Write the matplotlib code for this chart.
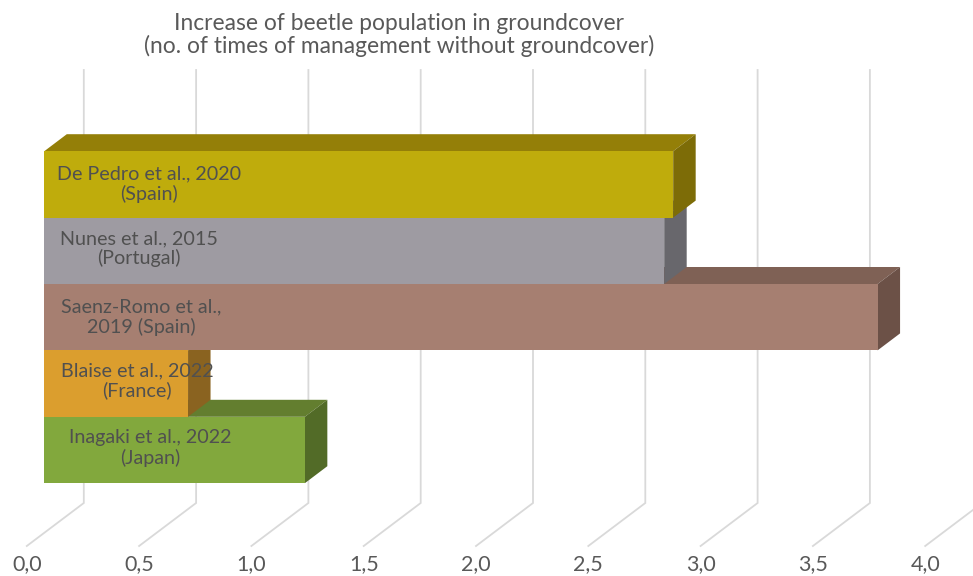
import matplotlib
matplotlib.use("Agg")
import matplotlib.pyplot as plt
from matplotlib.patches import Polygon

plt.rcParams["font.family"] = ["Lato", "DejaVu Sans"]

# Studies, listed from the bottom bar to the top bar
labels = [
    "Inagaki et al., 2022\n(Japan)",
    "Blaise et al., 2022\n(France)",
    "Saenz-Romo et al.,\n2019 (Spain)",
    "Nunes et al., 2015\n(Portugal)",
    "De Pedro et al., 2020\n(Spain)",
]
values = [1.16, 0.64, 3.71, 2.76, 2.80]
ticks = [0.0, 0.5, 1.0, 1.5, 2.0, 2.5, 3.0, 3.5, 4.0]
tick_labels = ["0,0", "0,5", "1,0", "1,5", "2,0", "2,5", "3,0", "3,5", "4,0"]

front_colors = ["#82A83D", "#DB9E2E", "#A67F71", "#9E9BA2", "#BFAC0C"]
top_colors = ["#637E2F", "#A3761F", "#7F6155", "#76747A", "#947F08"]
side_colors = ["#526B27", "#8A6320", "#6C5147", "#68676C", "#7D6C07"]
label_x = [0.47, 0.412, 0.43, 0.421, 0.466]
label_dy = [0.03, 0.045, 0.0, 0.03, 0.0]

W, H = 973, 576
PX_PER_X = 224.6   # pixels per unit of the value axis
PX_PER_Y = 66.4    # pixels per bar slot
X0_PX = 44.3       # pixel column of value zero on the bars' front face
Y0_PX = 450.0      # pixel row of the centre of the lowest bar

fig = plt.figure(figsize=(W / 100, H / 100), dpi=100)
ax = fig.add_axes([0, 0, 1, 1])
ax.set_xlim(-X0_PX / PX_PER_X, (W - X0_PX) / PX_PER_X)
ax.set_ylim((Y0_PX - H) / PX_PER_Y, Y0_PX / PX_PER_Y)
ax.axis("off")

# Oblique offsets that give the chart its depth
bar_dx, bar_dy = 22.5 / PX_PER_X, 17 / PX_PER_Y
floor_front_x = -17.5 / PX_PER_X
floor_back_x = 39.5 / PX_PER_X
floor_front_y = (Y0_PX - 546) / PX_PER_Y
floor_back_y = (Y0_PX - 503) / PX_PER_Y
wall_top_y = (Y0_PX - 70) / PX_PER_Y
GRID = "#D9D9D9"

for t, tl in zip(ticks, tick_labels):
    ax.plot([t + floor_front_x, t + floor_back_x, t + floor_back_x],
            [floor_front_y, floor_back_y, wall_top_y],
            color=GRID, lw=1.3, zorder=1, solid_joinstyle="miter", clip_on=True)
    ax.text(t + floor_front_x, (Y0_PX - 564) / PX_PER_Y, tl, ha="center", va="center",
            fontsize=15.5, color="#595959", zorder=5)

# Bars go from bottom to top so each one overlaps the top face of the bar below
for i, (lab, v) in enumerate(zip(labels, values)):
    lo, hi = i - 0.5, i + 0.5
    z = 2 + i
    ax.add_patch(Polygon([(0, hi), (bar_dx, hi + bar_dy), (v + bar_dx, hi + bar_dy), (v, hi)],
                         closed=True, fc=top_colors[i], ec="none", zorder=z))
    ax.add_patch(Polygon([(v, lo), (v + bar_dx, lo + bar_dy), (v + bar_dx, hi + bar_dy), (v, hi)],
                         closed=True, fc=side_colors[i], ec="none", zorder=z))
    ax.add_patch(Polygon([(0, lo), (v, lo), (v, hi), (0, hi)],
                         closed=True, fc=front_colors[i], ec="none", zorder=z))

for i, lab in enumerate(labels):
    ax.text(label_x[i], i + label_dy[i], lab, ha="center", va="center", fontsize=14.2,
            color="#505050", linespacing=1.14, zorder=10)

ax.text((399 - X0_PX) / PX_PER_X, (Y0_PX - 35) / PX_PER_Y,
        "Increase of beetle population in groundcover\n"
        "(no. of times of management without groundcover)",
        ha="center", va="center", fontsize=16.4, color="#595959", linespacing=1.1, zorder=10)

fig.savefig("out.png", dpi=100)
